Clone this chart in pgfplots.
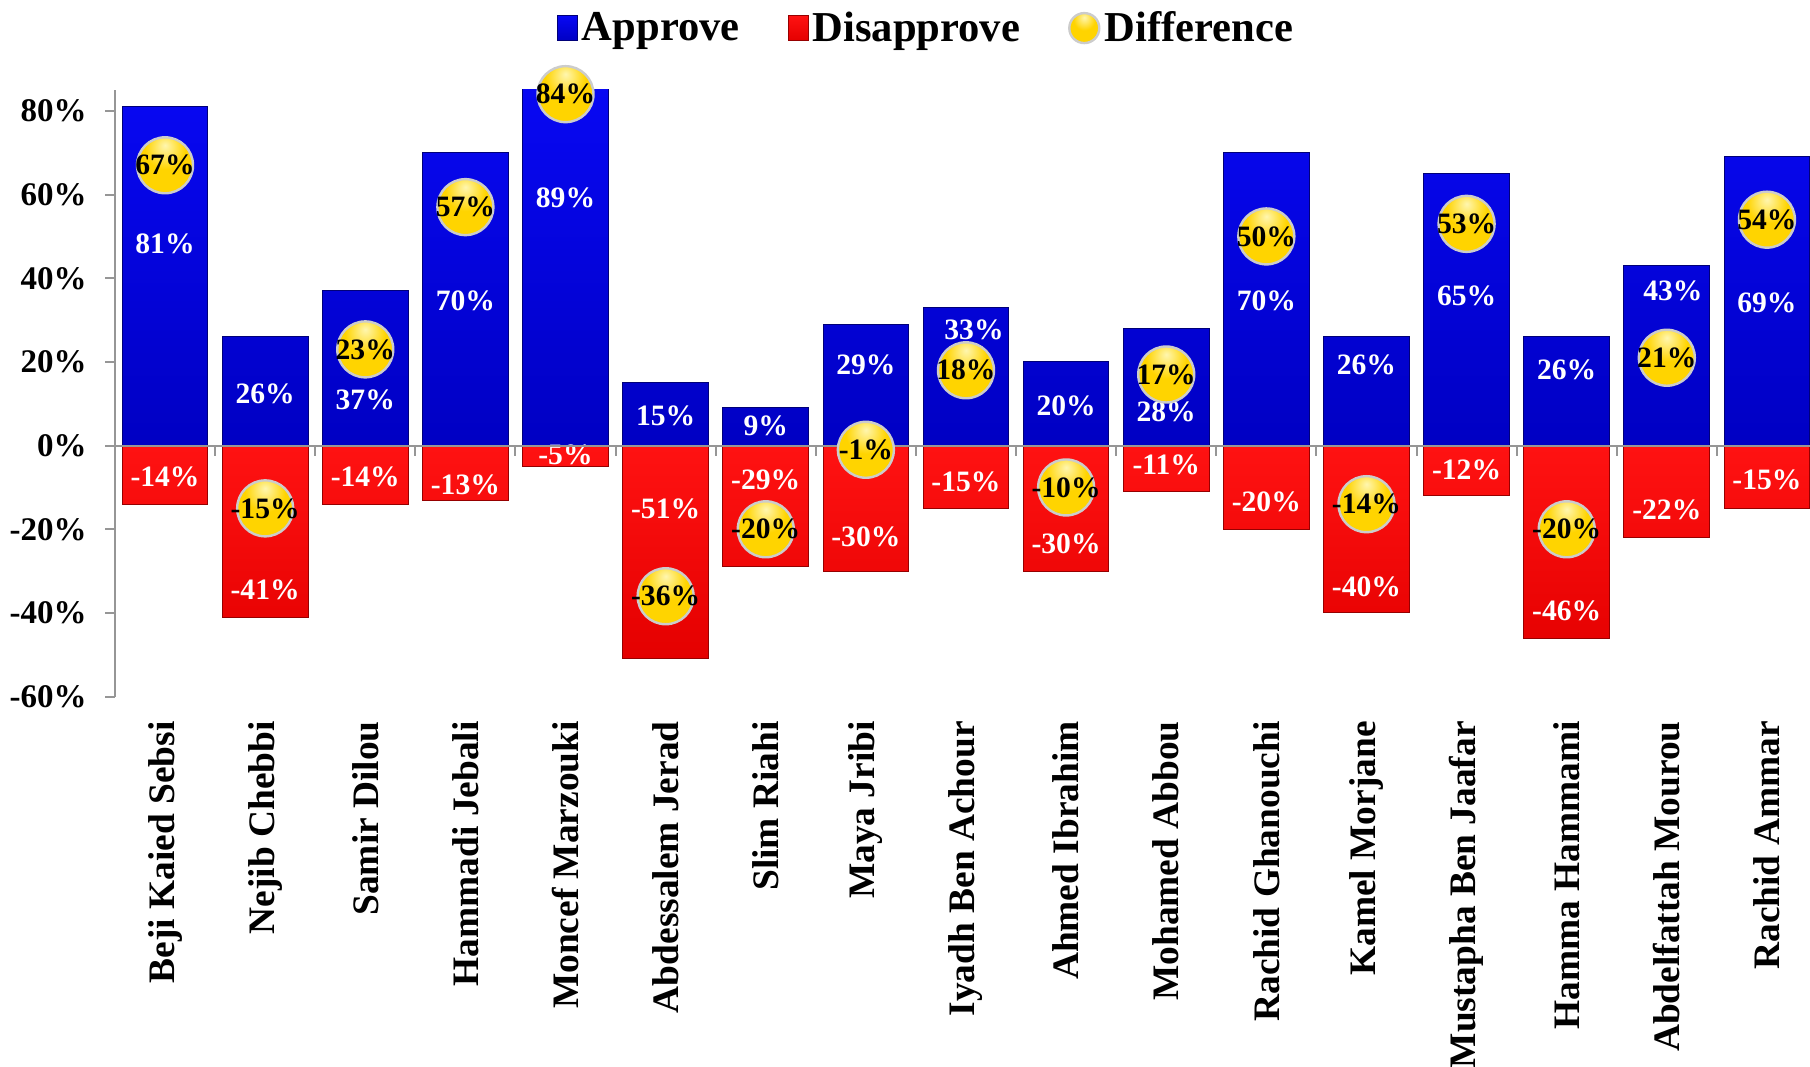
\documentclass[border=0pt]{standalone}
\usepackage{pgfplots}
\pgfplotsset{compat=1.18}
\usepackage{fontspec}
\setmainfont{Liberation Serif}
\definecolor{bluetop}{RGB}{8,8,245}
\definecolor{bluebot}{RGB}{0,0,195}
\definecolor{blueedge}{RGB}{0,0,120}
\definecolor{redtop}{RGB}{255,18,18}
\definecolor{redbot}{RGB}{228,0,0}
\definecolor{rededge}{RGB}{150,0,0}
\definecolor{goldA}{RGB}{255,246,175}
\definecolor{goldB}{RGB}{255,212,0}
\definecolor{goldC}{RGB}{232,160,0}
\definecolor{axgray}{RGB}{150,150,150}
\pgfdeclareradialshading{goldball}{\pgfpoint{0bp}{18bp}}{color(0bp)=(goldA); color(18bp)=(goldB); color(45bp)=(goldB); color(68bp)=(goldC); color(90bp)=(goldC)}
\pgfdeclareplotmark{goldball}{\pgfpathcircle{\pgfpointorigin}{\pgfplotmarksize}\pgfshadepath{goldball}{0}\pgfusepath{stroke}}
\pgfplotsset{
  barlegend/.style={legend image code/.code={\draw[##1] (0pt,-6.3pt) rectangle (10pt,6.3pt);}},
  balllegend/.style={legend image code/.code={\draw[##1, mark size=7.5pt] plot coordinates {(6pt,0pt)};}},
}
\begin{document}
\begin{tikzpicture}
\begin{axis}[
  name=ax,
  scale only axis,
  width=847.7pt, height=303.4pt,
  xmin=-0.5, xmax=16.43,
  ymin=-60, ymax=85,
  clip mode=individual,
  axis y line*=left,
  axis x line*=bottom,
  x axis line style={draw=none},
  y axis line style={draw=axgray, line width=1pt},
  xtick={0,...,16},
  xticklabels={Beji Kaied Sebsi, Nejib Chebbi, Samir Dilou, Hammadi Jebali, Moncef Marzouki, Abdessalem Jerad, Slim Riahi, Maya Jribi, Iyadh Ben Achour, Ahmed Ibrahim, Mohamed Abbou, Rachid Ghanouchi, Kamel Morjane, Mustapha Ben Jaafar, Hamma Hammami, Abdelfattah Mourou, Rachid Ammar},
  x tick style={draw=none},
  xticklabel style={yshift=-4pt, rotate=90, anchor=east, font=\fontsize{18.7}{20}\selectfont\bfseries},
  ytick={-60,-40,-20,0,20,40,60,80},
  yticklabels={-60\%,-40\%,-20\%,0\%,20\%,40\%,60\%,80\%},
  y tick style={draw=axgray, line width=1pt},
  tick align=outside,
  major tick length=4.8pt,
  yticklabel style={font=\bfseries\fontsize{16.5}{19}\selectfont, xshift=-5.8pt},
  legend columns=3,
  legend style={at={(0.479,1.102)}, anchor=center, draw=none, fill=none,
    font=\bfseries\fontsize{21.3}{24}\selectfont,
    /tikz/every even column/.append style={column sep=22pt}},
]
% Approve bars
\addplot[ybar, bar width=0.856, draw=blueedge, line width=0.5pt, top color=bluetop, bottom color=bluebot, barlegend]
  coordinates {(0,81) (1,26) (2,37) (3,70) (4,89) (5,15) (6,9) (7,29) (8,33) (9,20) (10,28) (11,70) (12,26) (13,65) (14,26) (15,43) (16,69)};
\addlegendentry{Approve}
% Disapprove bars
\addplot[ybar, bar width=0.856, draw=rededge, line width=0.5pt, top color=redtop, bottom color=redbot, barlegend]
  coordinates {(0,-14) (1,-41) (2,-14) (3,-13) (4,-5) (5,-51) (6,-29) (7,-30) (8,-15) (9,-30) (10,-11) (11,-20) (12,-40) (13,-12) (14,-46) (15,-22) (16,-15)};
\addlegendentry{Disapprove}
% Approve labels
\addplot[only marks, mark=none, forget plot, nodes near coords, point meta=explicit symbolic,
  every node near coord/.append style={anchor=center, text=white, font=\bfseries\fontsize{14.8}{17}\selectfont}]
  coordinates {(0,48.3)[81\%] (1,12.4)[26\%] (2,11.0)[37\%] (3,34.5)[70\%] (4,59.3)[89\%] (5,7.2)[15\%] (6,4.7)[9\%] (7,19.3)[29\%] (8.08,27.6)[33\%] (9,9.4)[20\%] (10,8.0)[28\%] (11,34.5)[70\%] (12,19.3)[26\%] (13,35.9)[65\%] (14,18.2)[26\%] (15.06,37.0)[43\%] (16,34.2)[69\%]};
% Disapprove labels
\addplot[only marks, mark=none, forget plot, nodes near coords, point meta=explicit symbolic,
  every node near coord/.append style={anchor=center, text=white, font=\bfseries\fontsize{14.8}{17}\selectfont}]
  coordinates {(0,-7.4)[-14\%] (1,-34.5)[-41\%] (2,-7.4)[-14\%] (3,-9.4)[-13\%] (4,-2.2)[-5\%] (5,-15.2)[-51\%] (6,-8.3)[-29\%] (7,-21.8)[-30\%] (8,-8.6)[-15\%] (9,-23.4)[-30\%] (10,-4.7)[-11\%] (11,-13.5)[-20\%] (12,-33.7)[-40\%] (13,-5.8)[-12\%] (14,-39.4)[-46\%] (15,-15.4)[-22\%] (16,-8.3)[-15\%]};
% zero line with ticks
\draw[axgray, line width=1pt] (axis cs:-0.5,0) -- (axis cs:16.43,0);
\pgfplotsinvokeforeach{0.5,1.5,...,15.5}{\draw[axgray, line width=1pt] (axis cs:#1,0) -- ++(0pt,-5pt);}
% Difference balls
\addplot[only marks, mark=goldball, mark size=14pt, mark options={draw=gray!40, line width=1.2pt},
  nodes near coords, point meta=explicit symbolic,
  every node near coord/.append style={anchor=center, text=black, font=\bfseries\fontsize{14.8}{17}\selectfont},
  balllegend]
  coordinates {(0,67)[67\%] (1,-15)[-15\%] (2,23)[23\%] (3,57)[57\%] (4,84)[84\%] (5,-36)[-36\%] (6,-20)[-20\%] (7,-1)[-1\%] (8,18)[18\%] (9,-10)[-10\%] (10,17)[17\%] (11,50)[50\%] (12,-14)[-14\%] (13,53)[53\%] (14,-20)[-20\%] (15,21)[21\%] (16,54)[54\%]};
\addlegendentry{Difference}
\end{axis}
\pgfresetboundingbox
\path[use as bounding box] ([xshift=-57.5pt,yshift=-185pt]ax.south west) rectangle ([yshift=45pt]ax.north east);
\end{tikzpicture}
\end{document}
